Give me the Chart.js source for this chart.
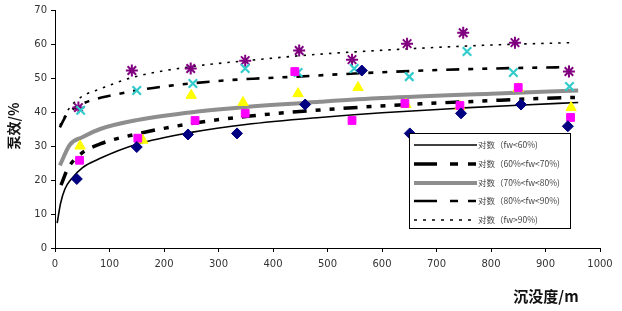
<!DOCTYPE html>
<html>
<head>
<meta charset="utf-8">
<script src="https://cdn.jsdelivr.net/npm/chart.js@4/dist/chart.umd.min.js"></script>
<style>
html,body{margin:0;padding:0;background:#fff;}
#wrap{position:relative;width:622px;height:311px;}
</style>
</head>
<body>
<div id="wrap"><canvas id="c" width="622" height="311"></canvas></div>
<script>
// ---- axis ticks ----
const xTicks = [0,100,200,300,400,500,600,700,800,900,1000];
const yTicks = [0,10,20,30,40,50,60,70];

// ---- scatter points (depth m, pump efficiency %) ----
const depthLt60 = [40,150,244,334,459,563,651,745,855,941];
const effLt60   = [20.3,29.7,33.4,33.7,42.2,52.2,33.7,39.6,42.2,35.8];
const depth60_70 = [45,152,257,349,440,545,642,743,850,946];
const eff60_70   = [25.8,32.3,37.5,39.6,51.9,37.5,42.5,41.9,47.2,38.4];
const depth70_80 = [46,161,250,345,446,556,644,743,850,947];
const eff70_80   = [30.0,31.7,44.9,42.8,45.4,47.2,42.2,41.6,46.9,41.3];
const depth80_90 = [47,150,253,349,446,549,650,756,841,944];
const eff80_90   = [40.5,46.3,48.4,52.8,51.6,52.8,50.4,57.8,51.6,47.5];
const depthGt90 = [43,141,249,349,448,545,646,749,844,943];
const effGt90   = [41.3,52.2,52.8,55.1,58.1,55.4,60.1,63.3,60.4,51.9];

// ---- logarithmic trend lines ----
const trendXLt60 = [4,10,18,30,50,82,150,250,350,486,600,750,850,960];
const trendYLt60 = [7.3,13,17.3,20.3,23.6,26.3,30.5,34,36.3,38.4,39.8,41.2,42,42.8];
const trendX60_70 = [11,24,46,83,138,266,358,486,683,780,890,954];
const trendY60_70 = [18.5,23.5,27.5,30.6,33.1,37,38.8,40.6,42.5,43.2,44,44.3];
const trendX70_80 = [9,27,50,83,150,266,350,486,600,800,960];
const trendY70_80 = [24.3,30.3,32.6,35,37.6,40.2,41.5,43,44.1,45.4,46.3];
const trendX80_90 = [9,20,40,64,101,152,205,297,364,444,523,712,866,945];
const trendY80_90 = [35.5,38.8,41.6,43.3,44.8,46.4,47.6,49.1,49.8,50.4,51.1,52.4,53.0,53.2];
const trendXGt90 = [9,27,50,83,143,248,352,468,651,817,950];
const trendYGt90 = [36.1,41.3,44.6,46.8,50.2,53.3,55.1,56.8,58.6,59.8,60.4];

const legendLabels = ['对数（fw<60%)','对数（60%<fw<70%)','对数（70%<fw<80%)','对数（80%<fw<90%)','对数（fw>90%)'];
const xTitle = '沉没度/m';
const yTitle = '泵效/%';

const pts = (xs, ys) => xs.map((x, i) => ({x: x, y: ys[i]}));

function scatterDs(xs, ys, style, fill, border, r, bw) {
  return {type:'scatter', data: pts(xs, ys), showLine:false, pointStyle: style,
    pointRadius: r, pointHoverRadius: r, backgroundColor: fill, borderColor: border,
    pointBorderWidth: bw, borderWidth: bw, order: 1};
}
function lineDs(xs, ys, color, width, dash, label) {
  return {type:'line', label: label, data: pts(xs, ys), showLine:true, pointRadius:0,
    borderColor: color, borderWidth: width, borderDash: dash, fill:false,
    cubicInterpolationMode:'monotone', order: 2};
}

const trendStyles = [
  {color:'#000', width:1.6, dash:[], legendDash:[]},
  {color:'#000', width:3.5, dash:[14,9,5,9,5,9], legendDash:[23,13,8,10,8,100]},
  {color:'#8e8e8e', width:4, dash:[], legendDash:[]},
  {color:'#000', width:2.6, dash:[13,9,5,9,5,9], legendDash:[23,13,8,10,8,100]},
  {color:'#000', width:1.6, dash:[2.5,6], legendDash:[3,6]}
];

const datasets = [
  lineDs(trendXLt60, trendYLt60, trendStyles[0].color, trendStyles[0].width, trendStyles[0].dash, legendLabels[0]),
  lineDs(trendX60_70, trendY60_70, trendStyles[1].color, trendStyles[1].width, trendStyles[1].dash, legendLabels[1]),
  lineDs(trendX70_80, trendY70_80, trendStyles[2].color, trendStyles[2].width, trendStyles[2].dash, legendLabels[2]),
  lineDs(trendX80_90, trendY80_90, trendStyles[3].color, trendStyles[3].width, trendStyles[3].dash, legendLabels[3]),
  lineDs(trendXGt90, trendYGt90, trendStyles[4].color, trendStyles[4].width, trendStyles[4].dash, legendLabels[4]),
  scatterDs(depthLt60, effLt60, 'rectRot', '#000080', '#000080', 5.5, 1),
  scatterDs(depth60_70, eff60_70, 'rect', '#ff00ff', '#ff00ff', 5.5, 1),
  scatterDs(depth70_80, eff70_80, 'triangle', '#ffff00', '#ffff00', 6, 1),
  scatterDs(depth80_90, eff80_90, 'crossRot', '#33cccc', '#33cccc', 6, 2.2),
  scatterDs(depthGt90, effGt90, 'star', '#800080', '#800080', 6, 2)
];

const legendPlugin = {
  id:'customLegend',
  afterDraw(chart) {
    const ctx = chart.ctx;
    ctx.save();
    const bx = 409.5, by = 133.5, bw = 161, bh = 95;
    ctx.fillStyle = '#fff';
    ctx.fillRect(bx, by, bw, bh);
    ctx.strokeStyle = '#000';
    ctx.lineWidth = 1;
    ctx.setLineDash([]);
    ctx.strokeRect(bx, by, bw, bh);
    const rows = [145, 164, 183, 201, 220];
    rows.forEach((y, i) => {
      const s = trendStyles[i];
      ctx.beginPath();
      ctx.strokeStyle = s.color;
      ctx.lineWidth = s.width;
      ctx.setLineDash(s.legendDash);
      ctx.moveTo(414, y);
      ctx.lineTo(477, y);
      ctx.stroke();
      ctx.setLineDash([]);
      ctx.fillStyle = '#444';
      ctx.font = '8.5px "Noto Sans CJK SC", sans-serif';
      ctx.textBaseline = 'middle';
      ctx.textAlign = 'left';
      ctx.fillText(legendLabels[i], 478, y);
    });
    // axis titles
    ctx.fillStyle = '#111';
    ctx.font = 'bold 15px "Noto Sans CJK SC", sans-serif';
    ctx.textAlign = 'center';
    ctx.textBaseline = 'middle';
    ctx.fillText(xTitle, 546, 296);
    ctx.translate(14, 126);
    ctx.rotate(-Math.PI/2);
    ctx.font = 'bold 14px "Noto Sans CJK SC", sans-serif';
    ctx.fillText(yTitle, 0, 0);
    ctx.restore();
  }
};

new Chart(document.getElementById('c'), {
  type: 'scatter',
  data: {datasets: datasets},
  options: {
    responsive: false,
    animation: false,
    layout: {padding: {top: 9.5, right: 22, left: 0, bottom: 0}},
    plugins: {legend: {display:false}, tooltip: {enabled:false}},
    scales: {
      x: {
        type:'linear', min:0, max:1000,
        afterBuildTicks: (s) => { s.ticks = xTicks.map(v => ({value:v})); },
        afterFit: (s) => { s.height = 63; },
        grid: {drawOnChartArea:false, drawTicks:true, tickLength:4, color:'#000'},
        border: {color:'#000', width:1},
        ticks: {color:'#333', font:{size:10, family:'"DejaVu Sans", sans-serif'}, padding:6, maxRotation:0,
          callback: (v) => String(v)}
      },
      y: {
        type:'linear', min:0, max:70,
        afterBuildTicks: (s) => { s.ticks = yTicks.map(v => ({value:v})); },
        afterFit: (s) => { s.width = 55; },
        grid: {drawOnChartArea:false, drawTicks:true, tickLength:4, color:'#000'},
        border: {color:'#000', width:1},
        ticks: {color:'#333', font:{size:10, family:'"DejaVu Sans", sans-serif'}, padding:4,
          callback: (v) => String(v)}
      }
    }
  },
  plugins: [legendPlugin]
});
</script>
</body>
</html>
